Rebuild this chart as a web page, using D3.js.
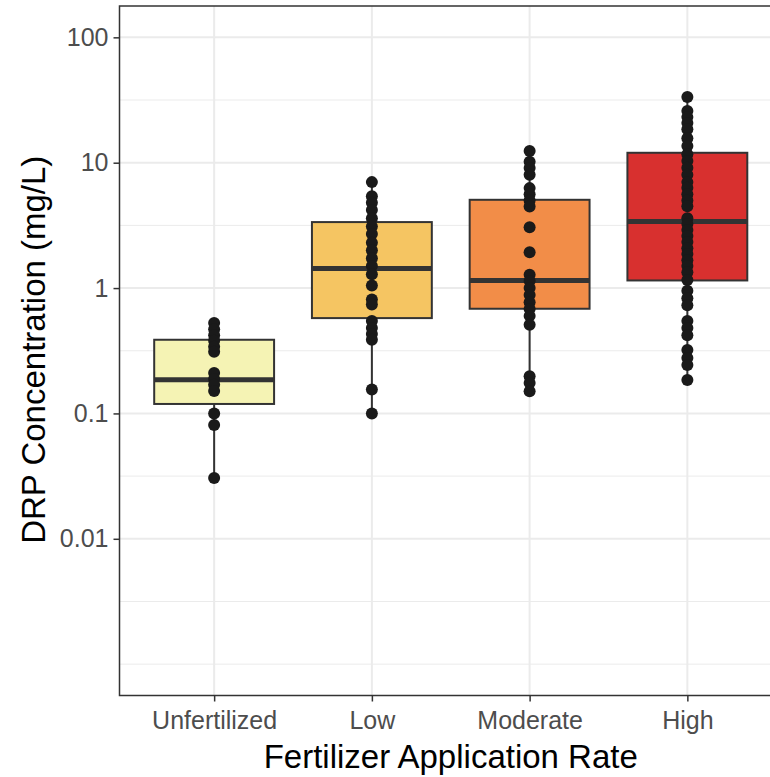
<!DOCTYPE html>
<html>
<head>
<meta charset="utf-8">
<script src="https://cdn.jsdelivr.net/npm/d3@7"></script>
<style>
  html, body { margin: 0; padding: 0; background: #fff; }
  svg { display: block; }
</style>
</head>
<body>
<script>
// ---------- data ----------
const categories = ["Unfertilized", "Low", "Moderate", "High"];
const fillColors = ["#F5F3B4", "#F5C562", "#F28D48", "#D8302F"];

// box statistics
const q1Values     = [0.119, 0.576, 0.684, 1.15];
const medianValues = [0.186, 1.43, 1.15, 3.39];
const q3Values     = [0.387, 3.36, 5.06, 12.0];
const whiskerLow   = [0.0305, 0.10, 0.15, 0.185];
const whiskerHigh  = [0.526, 7.0, 12.4, 33.4];

// observations
const unfertilizedPoints = [0.526, 0.47, 0.42, 0.38, 0.34, 0.31, 0.21, 0.188, 0.169, 0.151, 0.10, 0.081, 0.0305];
const lowPoints = [7.0, 5.4, 4.8, 4.2, 3.6, 3.1, 2.7, 2.3, 2.0, 1.73, 1.5, 1.29, 1.05, 0.81, 0.74, 0.545, 0.48, 0.43, 0.387, 0.155, 0.10];
const moderatePoints = [12.4, 10.2, 9.06, 8.0, 6.27, 5.6, 5.0, 4.48, 3.05, 1.93, 1.28, 1.14, 1.0, 0.88, 0.77, 0.68, 0.60, 0.51, 0.198, 0.175, 0.15];
const highPoints = [33.4, 25.8, 23.1, 20.7, 18.5, 15.7, 13.6, 11.7, 10.3, 9.1, 8.0, 7.0, 6.3, 5.6, 5.0, 4.5, 3.6, 3.24, 2.9, 2.6, 2.33, 2.08, 1.87, 1.67, 1.5, 1.34, 1.16, 0.95, 0.83, 0.73, 0.545, 0.48, 0.42, 0.32, 0.277, 0.243, 0.185];
const pointSets = [unfertilizedPoints, lowPoints, moderatePoints, highPoints];

const yTickValues = [0.01, 0.1, 1, 10, 100];
const yTickLabels = ["0.01", "0.1", "1", "10", "100"];
const yMinorGrid = [Math.pow(10, -3), Math.pow(10, -2.5), Math.pow(10, -1.5), Math.pow(10, -0.5), Math.pow(10, 0.5), Math.pow(10, 1.5)];

const xTitle = "Fertilizer Application Rate";
const yTitle = "DRP Concentration (mg/L)";

// ---------- layout ----------
const W = 770, H = 777;
const panel = { left: 119.5, right: 782, top: 6, bottom: 695.5 };
const font = "'Liberation Sans', Arial, sans-serif";

const svg = d3.select("body").append("svg")
  .attr("width", W).attr("height", H)
  .attr("viewBox", `0 0 ${W} ${H}`);

const x = d3.scalePoint().domain(categories).range([panel.left, panel.right]).padding(0.6);
const step = x.step();
const boxW = step * 0.76;

const y = d3.scaleLog()
  .domain([Math.pow(10, -3.25), Math.pow(10, 2.25)])
  .range([panel.bottom, panel.top]);

// ---------- grid ----------
const grid = svg.append("g");
grid.selectAll("line.minor").data(yMinorGrid).join("line")
  .attr("x1", panel.left).attr("x2", panel.right)
  .attr("y1", d => y(d)).attr("y2", d => y(d))
  .attr("stroke", "#ebebeb").attr("stroke-width", 1);
grid.selectAll("line.majorY").data(yTickValues).join("line")
  .attr("x1", panel.left).attr("x2", panel.right)
  .attr("y1", d => y(d)).attr("y2", d => y(d))
  .attr("stroke", "#ebebeb").attr("stroke-width", 2);
grid.selectAll("line.majorX").data(categories).join("line")
  .attr("x1", d => x(d)).attr("x2", d => x(d))
  .attr("y1", panel.top).attr("y2", panel.bottom)
  .attr("stroke", "#ebebeb").attr("stroke-width", 2);

// ---------- boxes ----------
const boxes = categories.map((c, i) => ({
  cat: c, q1: q1Values[i], med: medianValues[i], q3: q3Values[i],
  lo: whiskerLow[i], hi: whiskerHigh[i], fill: fillColors[i]
}));

const bg = svg.append("g");
bg.selectAll("line.whisker").data(boxes).join("line")
  .attr("x1", d => x(d.cat)).attr("x2", d => x(d.cat))
  .attr("y1", d => y(d.lo)).attr("y2", d => y(d.hi))
  .attr("stroke", "#333333").attr("stroke-width", 2);
bg.selectAll("rect.box").data(boxes).join("rect")
  .attr("x", d => x(d.cat) - boxW / 2)
  .attr("width", boxW)
  .attr("y", d => y(d.q3))
  .attr("height", d => y(d.q1) - y(d.q3))
  .attr("fill", d => d.fill)
  .attr("stroke", "#333333").attr("stroke-width", 2);
bg.selectAll("line.median").data(boxes).join("line")
  .attr("x1", d => x(d.cat) - boxW / 2).attr("x2", d => x(d.cat) + boxW / 2)
  .attr("y1", d => y(d.med)).attr("y2", d => y(d.med))
  .attr("stroke", "#333333").attr("stroke-width", 5);

// ---------- points ----------
const pts = [];
pointSets.forEach((arr, i) => arr.forEach(v => pts.push({ cat: categories[i], v })));
svg.append("g").selectAll("circle").data(pts).join("circle")
  .attr("cx", d => x(d.cat)).attr("cy", d => y(d.v))
  .attr("r", 6).attr("fill", "#1a1a1a");

// ---------- panel border (clipped on the right by the window) ----------
svg.append("rect")
  .attr("x", panel.left).attr("y", panel.top)
  .attr("width", panel.right - panel.left).attr("height", panel.bottom - panel.top)
  .attr("fill", "none").attr("stroke", "#333333").attr("stroke-width", 1.5);

// ---------- axes ----------
const yAxis = d3.axisLeft(y)
  .tickValues(yTickValues)
  .tickFormat((d, i) => yTickLabels[i])
  .tickSize(6).tickPadding(5);
const gy = svg.append("g").attr("transform", `translate(${panel.left},0)`).call(yAxis);
gy.select(".domain").remove();
gy.selectAll(".tick line").attr("stroke", "#333333").attr("stroke-width", 1.5);
gy.selectAll(".tick text").attr("fill", "#4d4d4d")
  .style("font-family", font).style("font-size", "25px");

const xAxis = d3.axisBottom(x).tickSize(6).tickPadding(10);
const gx = svg.append("g").attr("transform", `translate(0,${panel.bottom})`).call(xAxis);
gx.select(".domain").remove();
gx.selectAll(".tick line").attr("stroke", "#333333").attr("stroke-width", 1.5);
gx.selectAll(".tick text").attr("fill", "#4d4d4d")
  .style("font-family", font).style("font-size", "25px");

// ---------- titles ----------
svg.append("text")
  .attr("x", (panel.left + panel.right) / 2).attr("y", 768)
  .attr("text-anchor", "middle")
  .style("font-family", font).style("font-size", "33px").attr("fill", "#000")
  .text(xTitle);

svg.append("text")
  .attr("transform", `translate(45,${(panel.top + panel.bottom) / 2 - 1}) rotate(-90)`)
  .attr("text-anchor", "middle")
  .style("font-family", font).style("font-size", "33px").attr("fill", "#000")
  .text(yTitle);
</script>
</body>
</html>
